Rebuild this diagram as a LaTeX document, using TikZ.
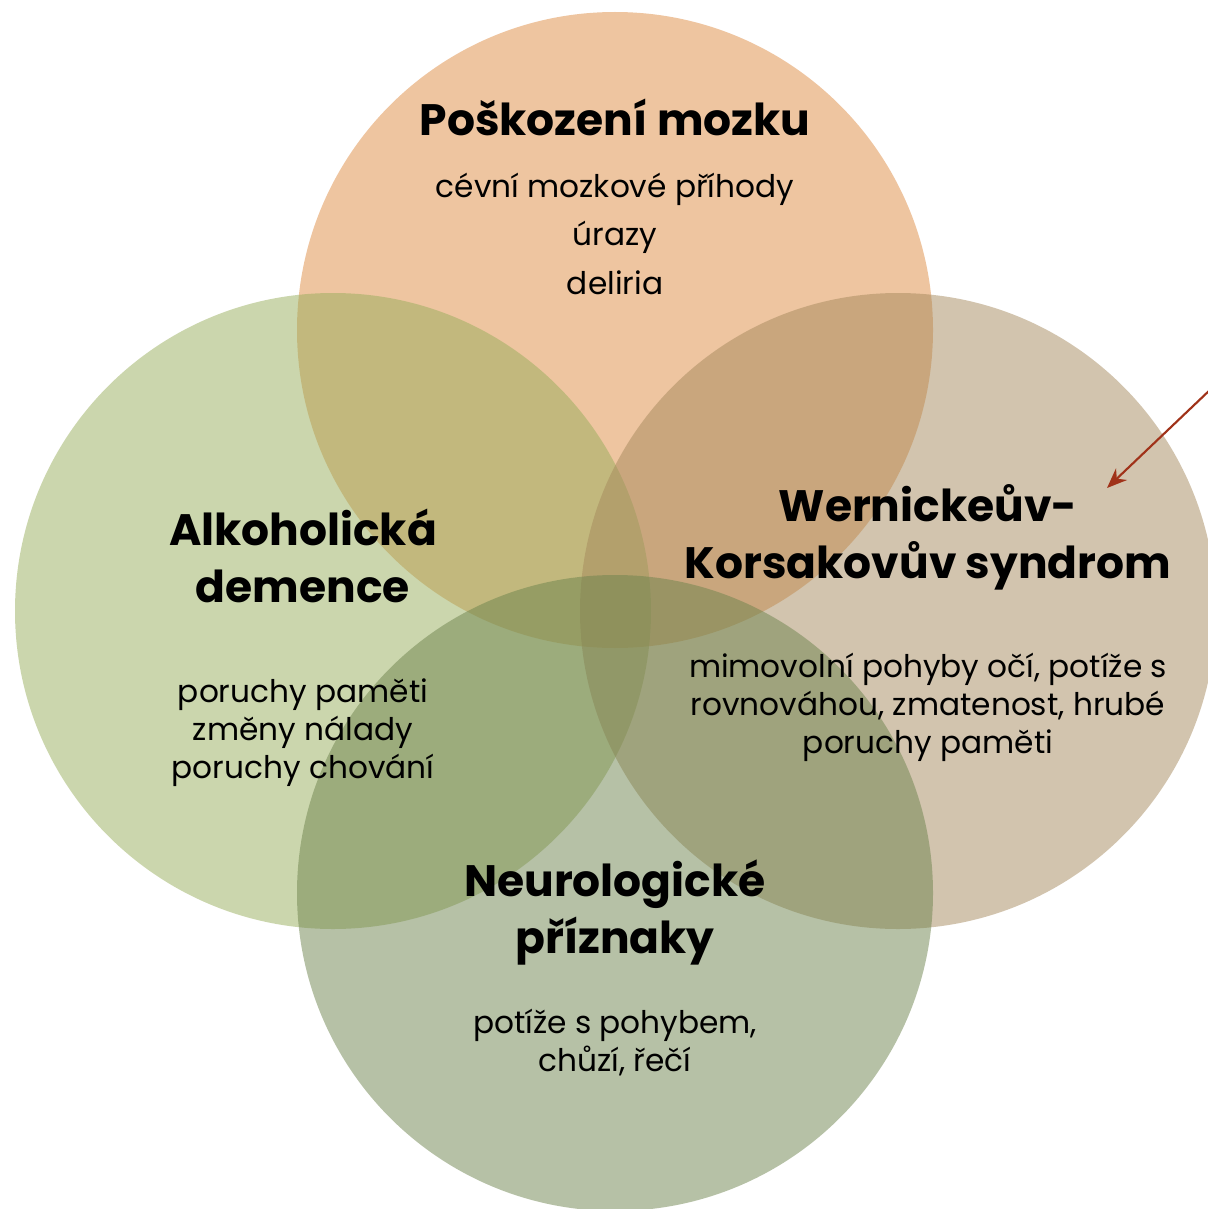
\documentclass[tikz,border=0pt]{standalone}
\usepackage{fontspec}
\setmainfont{Poppins}
\usetikzlibrary{arrows.meta}
\definecolor{ctop}{RGB}{221,139,65}
\definecolor{cleft}{RGB}{151,173,91}
\definecolor{cright}{RGB}{165,137,93}
\definecolor{cbot}{RGB}{109,131,77}
\definecolor{carrow}{RGB}{160,50,25}
\tikzset{
  venn/.style={circle, minimum size=477pt, inner sep=0pt, fill opacity=0.5, draw=none},
  ttl/.style={anchor=base, inner sep=0pt, font=\fontsize{33}{40}\selectfont\bfseries},
  bdy/.style={anchor=base, inner sep=0pt, font=\fontsize{23.4}{28}\selectfont},
  pointer/.style={draw=carrow, line width=1.6pt, -{Stealth[length=15pt,width=12pt]}}
}
\begin{document}
\begin{tikzpicture}[x=0.75pt,y=-0.75pt]
\useasboundingbox (0,0) rectangle (1207,1209);
\node[venn, fill=ctop] (ctop) at (615,330) {};
\node[venn, fill=cleft] (cleft) at (333,611) {};
\node[venn, fill=cright] (cright) at (898,611) {};
\node[venn, fill=cbot] (cbot) at (615,893) {};
% top
\node[ttl] (t0) at (615,136) {Poškození mozku};
\node[bdy] (t1) at (615,197) {cévní mozkové příhody};
\node[bdy] (t2) at (615,245) {úrazy};
\node[bdy] (t3) at (615,294) {deliria};
% left
\node[ttl] (l0) at (303,545) {Alkoholická};
\node[ttl] (l1) at (303,602) {demence};
\node[bdy] (l2) at (303,702) {poruchy paměti};
\node[bdy] (l3) at (303,740) {změny nálady};
\node[bdy] (l4) at (303,778) {poruchy chování};
% right
\node[ttl] (r0) at (928,521) {Wernickeův-};
\node[ttl] (r1) at (928,578) {Korsakovův syndrom};
\node[bdy] (r2) at (928,677) {mimovolní pohyby očí, potíže s};
\node[bdy] (r3) at (928,715) {rovnováhou, zmatenost, hrubé};
\node[bdy] (r4) at (928,753) {poruchy paměti};
% bottom
\node[ttl] (b0) at (615,896) {Neurologické};
\node[ttl] (b1) at (615,953) {příznaky};
\node[bdy] (b2) at (615,1033) {potíže s pohybem,};
\node[bdy] (b3) at (615,1071) {chůzí, řečí};
% arrow
\coordinate (as) at (1212,388);
\coordinate (ae) at (1107,488);
\draw[pointer] (as) -- (ae);
\end{tikzpicture}
\end{document}
